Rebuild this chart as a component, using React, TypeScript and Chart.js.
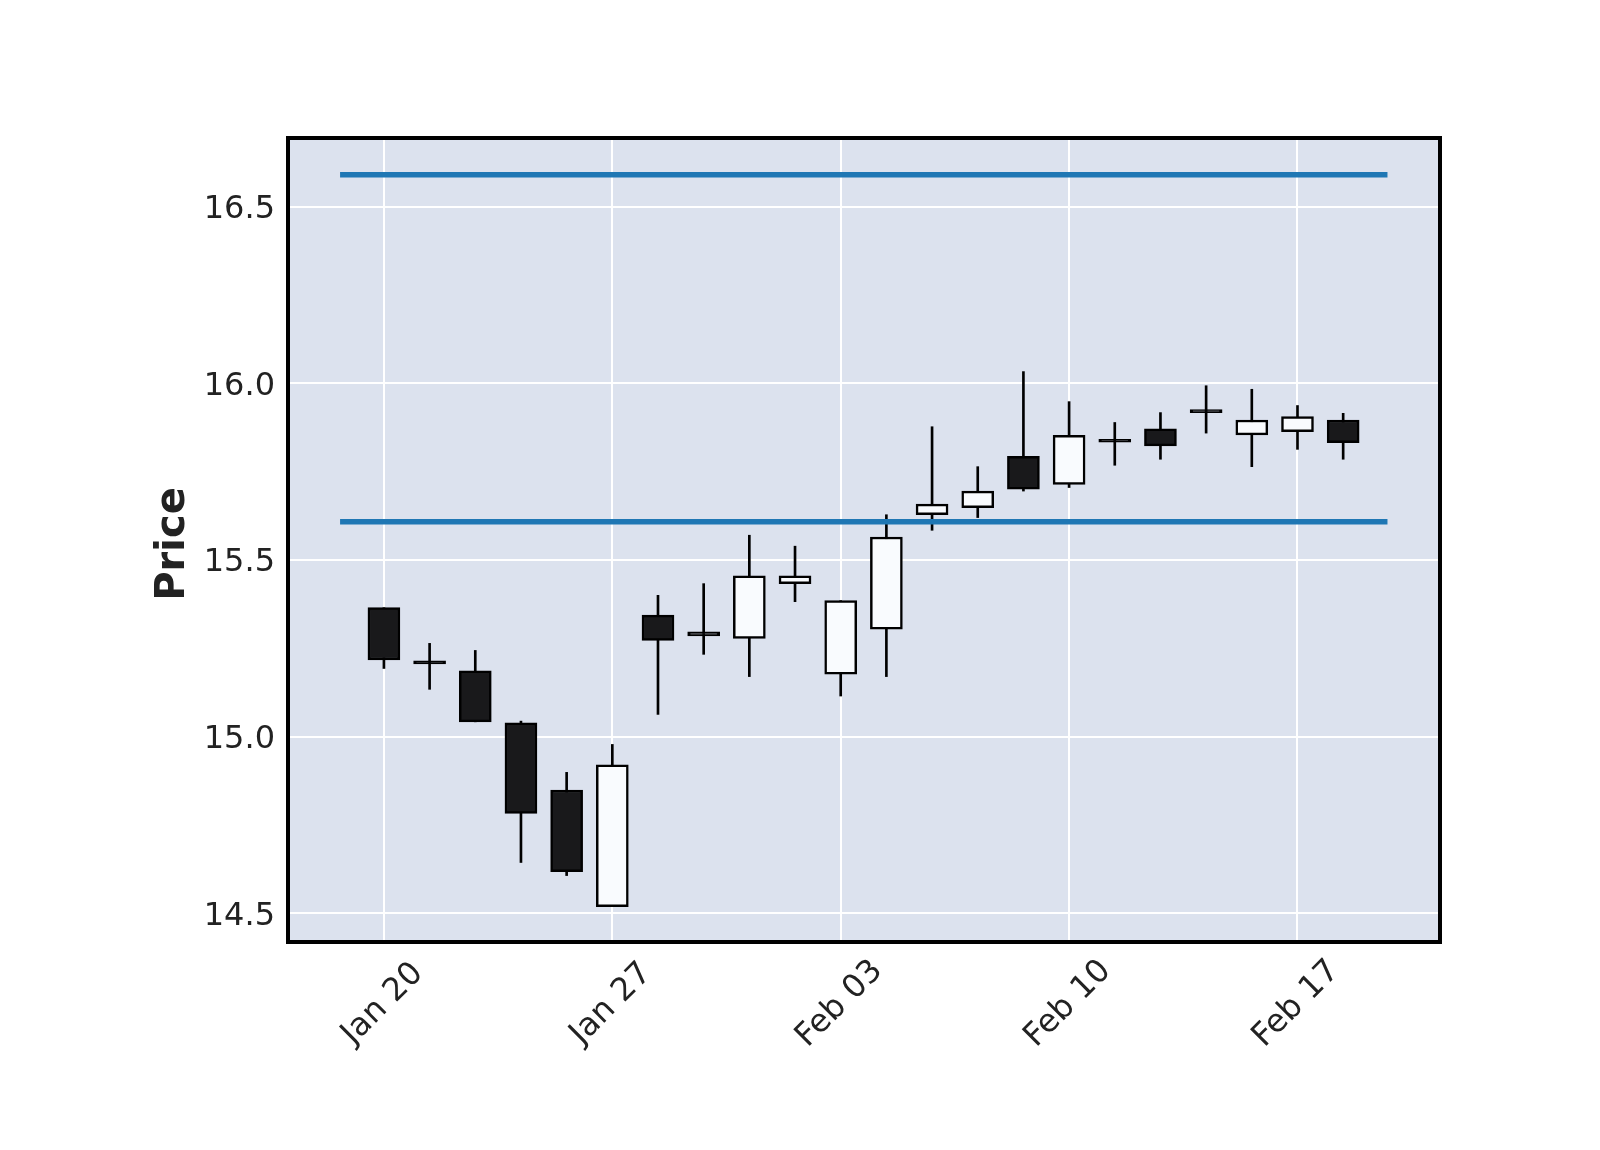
import React, { useEffect, useRef } from 'react';
import { Chart, registerables } from 'chart.js';

Chart.register(...registerables);

// ---- data ----
const OPENS = [15.365, 15.206, 15.186, 15.039, 14.849, 14.519, 15.344, 15.297, 15.278, 15.433, 15.177, 15.304, 15.628, 15.648, 15.793, 15.714, 15.833, 15.871, 15.917, 15.854, 15.863, 15.896];
const HIGHS = [15.365, 15.264, 15.244, 15.044, 14.899, 14.978, 15.400, 15.433, 15.570, 15.539, 15.385, 15.628, 15.877, 15.764, 16.033, 15.948, 15.889, 15.917, 15.993, 15.983, 15.937, 15.915];
const LOWS = [15.193, 15.134, 15.042, 14.644, 14.607, 14.519, 15.063, 15.233, 15.170, 15.382, 15.115, 15.170, 15.584, 15.620, 15.695, 15.705, 15.768, 15.785, 15.859, 15.764, 15.813, 15.785];
const CLOSES = [15.217, 15.206, 15.042, 14.783, 14.618, 14.920, 15.272, 15.285, 15.455, 15.455, 15.385, 15.565, 15.658, 15.695, 15.700, 15.853, 15.833, 15.823, 15.917, 15.896, 15.906, 15.832];

const X_TICK_INDEX = [0, 5, 10, 15, 20];
const X_TICK_LABELS = ['Jan 20', 'Jan 27', 'Feb 03', 'Feb 10', 'Feb 17'];
const Y_TICKS = [14.5, 15.0, 15.5, 16.0, 16.5];
const HLINE_LEVELS = [16.59, 15.608];
const HLINE_X_RANGE = [-0.96, 21.97];
const X_RANGE = [-2.1, 23.12];
const Y_RANGE = [14.419, 16.694];
const Y_LABEL = 'Price';

// ---- styles ----
const FONT = "'DejaVu Sans', sans-serif";
const TEXT_COLOR = '#222222';
const BG = '#dce2ee';
const UP = '#f9fbfe';
const DOWN = '#19191b';
const EDGE = '#000000';
const HLINE_COLOR = '#1f77b4';

export default function App() {
  const ref = useRef<HTMLCanvasElement | null>(null);

  useEffect(() => {
    const canvas = ref.current;
    if (!canvas) return;

    const bodies = OPENS.map((o, i) => ({ x: i, y: [o, CLOSES[i]] }));
    const wicks = LOWS.map((l, i) => ({ x: i, y: [l, HIGHS[i]] }));
    const bodyFill = OPENS.map((o, i) => (CLOSES[i] === o ? EDGE : CLOSES[i] > o ? UP : DOWN));

    const decorPlugin = {
      id: 'decor',
      beforeDraw(chart: any) {
        const { ctx, chartArea: a } = chart;
        ctx.save();
        ctx.fillStyle = BG;
        ctx.fillRect(a.left, a.top, a.right - a.left, a.bottom - a.top);
        ctx.restore();
      },
      afterDraw(chart: any) {
        const { ctx, chartArea: a } = chart;
        ctx.save();
        ctx.strokeStyle = '#000';
        ctx.lineWidth = 4;
        ctx.strokeRect(a.left, a.top, a.right - a.left, a.bottom - a.top);

        // y axis label
        ctx.fillStyle = TEXT_COLOR;
        ctx.font = `bold 40px ${FONT}`;
        ctx.textAlign = 'center';
        ctx.textBaseline = 'middle';
        ctx.save();
        ctx.translate(174, (a.top + a.bottom) / 2 + 4);
        ctx.rotate(-Math.PI / 2);
        ctx.fillText(Y_LABEL, 0, 0);
        ctx.restore();

        // rotated x tick labels (matplotlib style, centered under tick)
        const xs = chart.scales.x;
        ctx.font = `32px ${FONT}`;
        X_TICK_INDEX.forEach((v, k) => {
          const px = xs.getPixelForValue(v);
          ctx.save();
          ctx.translate(px - 1, a.bottom + 62);
          ctx.rotate(-Math.PI / 4);
          ctx.fillText(X_TICK_LABELS[k], 0, 0);
          ctx.restore();
        });
        ctx.restore();
      },
    };

    const chart = new Chart(canvas, {
      type: 'bar',
      data: {
        datasets: [
          ...HLINE_LEVELS.map((lvl) => ({
            type: 'line' as const,
            data: [
              { x: HLINE_X_RANGE[0], y: lvl },
              { x: HLINE_X_RANGE[1], y: lvl },
            ],
            borderColor: HLINE_COLOR,
            borderWidth: 5.5,
            pointRadius: 0,
            fill: false,
            order: 0,
          })),
          {
            type: 'bar' as const,
            data: bodies as any,
            backgroundColor: bodyFill,
            borderColor: EDGE,
            borderWidth: 2.5,
            borderSkipped: false,
            grouped: false,
            barThickness: 32,
            maxBarThickness: 32,
            minBarLength: 3,
            order: 1,
          },
          {
            type: 'bar' as const,
            data: wicks as any,
            backgroundColor: EDGE,
            borderWidth: 0,
            grouped: false,
            barThickness: 2,
            maxBarThickness: 2,
            order: 2,
          },
        ],
      },
      options: {
        animation: false,
        responsive: false,
        maintainAspectRatio: false,
        devicePixelRatio: 1,
        layout: { padding: { left: 0, top: 138, right: 160, bottom: 0 } },
        plugins: {
          legend: { display: false },
          tooltip: { enabled: false },
        },
        scales: {
          x: {
            type: 'linear',
            min: X_RANGE[0],
            max: X_RANGE[1],
            offset: false,
            afterBuildTicks: (s: any) => {
              s.ticks = X_TICK_INDEX.map((v) => ({ value: v }));
            },
            afterFit: (s: any) => {
              s.height = 208;
            },
            ticks: { display: false },
            grid: { color: '#ffffff', lineWidth: 2, drawTicks: false, offset: false },
            border: { display: false },
          },
          y: {
            type: 'linear',
            min: Y_RANGE[0],
            max: Y_RANGE[1],
            afterBuildTicks: (s: any) => {
              s.ticks = Y_TICKS.map((v) => ({ value: v }));
            },
            afterFit: (s: any) => {
              s.width = 288;
            },
            ticks: {
              padding: 13,
              labelOffset: 3,
              color: TEXT_COLOR,
              font: { family: FONT, size: 32 },
              callback: (v: any) => Number(v).toFixed(1),
            },
            grid: { color: '#ffffff', lineWidth: 2, drawTicks: false },
            border: { display: false },
          },
        },
      } as any,
      plugins: [decorPlugin],
    });

    return () => chart.destroy();
  }, []);

  return (
    <div style={{ position: 'absolute', left: 0, top: 0, width: 1600, height: 1150, background: '#ffffff' }}>
      <canvas ref={ref} width={1600} height={1150} style={{ display: 'block', width: 1600, height: 1150 }} />
    </div>
  );
}
